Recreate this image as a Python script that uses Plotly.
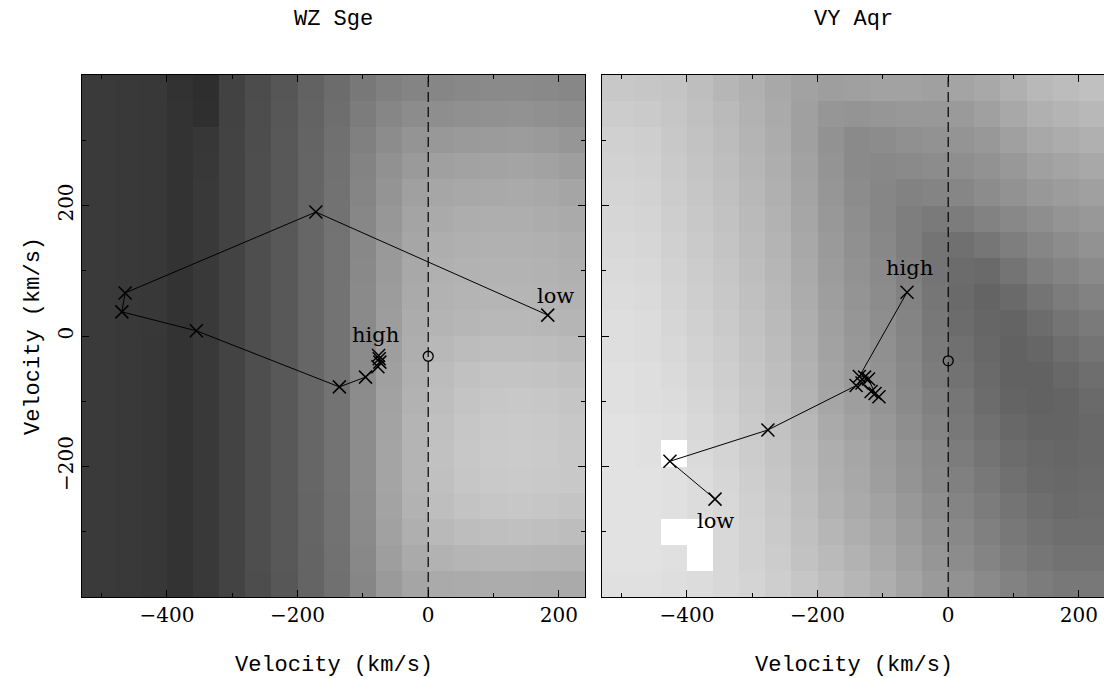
import plotly.graph_objects as go

# ---------------- data ----------------
# heat-map bin edges (km/s)
x_edges = [-530, -480, -440, -400, -360, -320, -280, -240, -200, -160, -120,
           -80, -40, 0, 40, 80, 120, 160, 200, 240]
y_edges = [-400, -360, -320, -280, -240, -200, -160, -120, -80, -40, 0,
           40, 80, 120, 160, 200, 240, 280, 320, 360, 400]

# axis ticks
x_major = [-400, -200, 0, 200]
x_minor = [-500, -300, -100, 100]
y_major = [-200, 0, 200]
y_minor = [-300, -100, 100, 300]

# grey levels (0 = black, 255 = white), rows listed from top (y=+380) to bottom (y=-380)
wz_rows_top_down = [
    [58, 57, 56, 50, 46, 66, 76, 86, 98, 108, 120, 128, 132, 134, 136, 138, 138, 137, 135],
    [58, 57, 56, 51, 47, 66, 77, 87, 99, 110, 124, 134, 140, 142, 144, 145, 146, 144, 142],
    [58, 57, 56, 51, 55, 67, 77, 88, 100, 112, 128, 140, 148, 152, 154, 155, 156, 154, 150],
    [58, 57, 56, 51, 56, 67, 78, 88, 101, 113, 131, 145, 154, 160, 162, 163, 164, 162, 158],
    [58, 57, 56, 51, 57, 67, 78, 88, 101, 114, 133, 148, 160, 166, 168, 169, 170, 168, 165],
    [58, 57, 56, 51, 57, 67, 78, 88, 102, 114, 135, 151, 164, 170, 173, 174, 174, 172, 170],
    [58, 57, 56, 51, 57, 67, 78, 88, 102, 115, 136, 153, 166, 174, 176, 177, 177, 176, 174],
    [58, 57, 56, 51, 57, 67, 78, 88, 102, 115, 137, 154, 168, 176, 178, 179, 179, 178, 176],
    [58, 57, 56, 51, 57, 67, 78, 88, 102, 115, 138, 156, 170, 178, 180, 181, 181, 180, 178],
    [58, 57, 56, 51, 57, 67, 78, 88, 102, 115, 138, 157, 172, 180, 182, 184, 184, 183, 181],
    [58, 57, 55, 51, 57, 67, 78, 88, 102, 115, 139, 158, 174, 184, 188, 190, 190, 189, 187],
    [58, 57, 55, 51, 57, 67, 78, 88, 102, 115, 139, 160, 176, 188, 193, 196, 196, 195, 193],
    [58, 57, 55, 51, 57, 67, 78, 88, 102, 115, 140, 162, 178, 190, 196, 199, 200, 199, 197],
    [58, 57, 55, 51, 57, 67, 78, 88, 102, 115, 140, 163, 180, 192, 198, 201, 202, 201, 199],
    [58, 57, 55, 51, 57, 67, 78, 88, 102, 115, 140, 164, 180, 193, 199, 202, 203, 202, 200],
    [58, 57, 55, 51, 57, 67, 78, 88, 102, 115, 140, 164, 180, 192, 198, 201, 202, 201, 200],
    [58, 57, 55, 51, 57, 67, 78, 88, 101, 114, 139, 163, 178, 190, 195, 198, 199, 198, 196],
    [58, 57, 55, 51, 57, 67, 78, 88, 101, 114, 138, 161, 175, 185, 189, 191, 192, 191, 189],
    [58, 57, 55, 51, 57, 67, 78, 88, 100, 113, 136, 158, 170, 178, 181, 182, 182, 181, 180],
    [58, 57, 55, 51, 57, 67, 77, 87, 100, 112, 134, 154, 165, 170, 171, 172, 172, 171, 170],
]

vy_rows_top_down = [
    [200, 198, 196, 190, 182, 176, 168, 162, 158, 160, 162, 162, 160, 164, 168, 176, 184, 188, 192],
    [204, 202, 198, 192, 186, 178, 170, 160, 150, 148, 150, 152, 152, 154, 160, 168, 176, 180, 184],
    [208, 206, 200, 194, 188, 180, 172, 160, 146, 138, 140, 144, 146, 148, 152, 160, 168, 172, 176],
    [210, 208, 202, 196, 190, 182, 174, 162, 148, 138, 136, 138, 140, 142, 146, 152, 160, 164, 168],
    [212, 210, 204, 198, 192, 184, 176, 164, 150, 140, 134, 130, 132, 134, 140, 146, 152, 156, 160],
    [214, 212, 206, 200, 194, 186, 178, 166, 152, 142, 134, 126, 122, 124, 130, 136, 142, 148, 152],
    [216, 214, 208, 202, 196, 188, 180, 168, 154, 144, 136, 126, 116, 112, 118, 126, 134, 140, 146],
    [218, 216, 210, 204, 198, 190, 182, 170, 156, 146, 138, 128, 116, 108, 106, 116, 126, 132, 138],
    [220, 218, 212, 206, 200, 192, 184, 172, 158, 148, 140, 130, 118, 106, 100, 106, 116, 124, 130],
    [222, 220, 214, 208, 202, 194, 186, 174, 160, 150, 142, 132, 120, 108, 102, 100, 108, 116, 122],
    [222, 220, 216, 210, 204, 196, 188, 176, 162, 152, 144, 134, 122, 112, 104, 98, 102, 110, 116],
    [224, 222, 218, 212, 206, 198, 190, 178, 164, 154, 146, 136, 124, 114, 106, 98, 98, 104, 110],
    [224, 222, 220, 214, 208, 200, 192, 180, 166, 158, 148, 138, 128, 118, 108, 100, 98, 100, 106],
    [226, 224, 222, 216, 210, 202, 194, 184, 170, 162, 152, 142, 132, 120, 112, 104, 100, 100, 104],
    [226, 224, 255, 218, 212, 204, 196, 186, 174, 166, 156, 146, 136, 124, 116, 108, 104, 102, 104],
    [226, 226, 224, 220, 214, 206, 198, 188, 176, 168, 158, 148, 138, 128, 120, 112, 106, 104, 106],
    [226, 226, 224, 220, 216, 208, 200, 190, 178, 170, 162, 152, 142, 132, 124, 116, 110, 106, 108],
    [226, 226, 255, 255, 216, 210, 202, 192, 182, 174, 166, 156, 146, 136, 128, 120, 114, 110, 110],
    [226, 226, 224, 255, 216, 210, 204, 194, 186, 178, 170, 160, 150, 140, 132, 124, 118, 114, 114],
    [224, 224, 222, 220, 216, 212, 206, 198, 190, 182, 174, 164, 154, 146, 138, 130, 124, 120, 120],
]

# trajectories (km/s)
wz_vx = [183, -172, -464, -469, -355, -136, -96, -77, -74, -75, -76]
wz_vy = [32, 190, 66, 37, 8, -78, -63, -47, -40, -35, -30]
vy_vx = [-63, -136, -128, -122, -112, -106, -118, -132, -141, -276, -426, -357]
vy_vy = [67, -62, -63, -66, -88, -93, -85, -72, -76, -144, -192, -250]

# systemic points (o)
wz_sys = (0, -31)
vy_sys = (0, -38)

titles = ["WZ Sge", "VY Aqr"]
axis_label = "Velocity (km/s)"

# ---------------- figure ----------------
W, H = 1104, 678
gray = [[0, "black"], [1, "white"]]

fig = go.Figure()
for z, xa, ya in [(wz_rows_top_down, "x", "y"), (vy_rows_top_down, "x2", "y2")]:
    fig.add_trace(go.Heatmap(
        x=x_edges, y=y_edges, z=z[::-1], colorscale=gray, zmin=0, zmax=255,
        showscale=False, hoverinfo="skip", xaxis=xa, yaxis=ya))

line_style = dict(color="black", width=1)
xmark = dict(symbol="x-thin", size=13, color="black", line=dict(width=1.5, color="black"))
omark = dict(symbol="circle-open", size=10, color="black", line=dict(width=1.3, color="black"))

fig.add_trace(go.Scatter(x=wz_vx, y=wz_vy, mode="lines+markers", line=line_style,
                         marker=xmark, xaxis="x", yaxis="y", showlegend=False))
fig.add_trace(go.Scatter(x=vy_vx, y=vy_vy, mode="lines+markers", line=line_style,
                         marker=xmark, xaxis="x2", yaxis="y2", showlegend=False))
fig.add_trace(go.Scatter(x=[wz_sys[0]], y=[wz_sys[1]], mode="markers", marker=omark,
                         xaxis="x", yaxis="y", showlegend=False))
fig.add_trace(go.Scatter(x=[vy_sys[0]], y=[vy_sys[1]], mode="markers", marker=omark,
                         xaxis="x2", yaxis="y2", showlegend=False))

tickfont = dict(family="DejaVu Serif", size=20, color="black")


def axis_style(major, minor, **kw):
    d = dict(showline=True, linecolor="black", linewidth=1, ticks="inside",
             ticklen=7, tickwidth=1, tickcolor="black", showgrid=False,
             zeroline=False, tickfont=tickfont, automargin=False,
             tickmode="array", tickvals=major,
             minor=dict(tickmode="array", tickvals=minor, ticklen=4, ticks="inside",
                        tickcolor="black", tickwidth=1, showgrid=False))
    d.update(kw)
    return d


ydom = [1 - 597 / H, 1 - 75 / H]
fig.update_layout(
    width=W, height=H, margin=dict(l=0, r=0, t=0, b=0, autoexpand=False),
    paper_bgcolor="white", plot_bgcolor="white", showlegend=False,
    xaxis=axis_style(x_major, x_minor, domain=[82 / W, 585 / W], range=[-530, 240],
                     anchor="y", mirror="ticks"),
    yaxis=axis_style(y_major, y_minor, domain=ydom, range=[-400, 400], anchor="x",
                     mirror="ticks", tickangle=-90),
    xaxis2=axis_style(x_major, x_minor, domain=[602 / W, 1.0], range=[-530, 238.5],
                      anchor="y2", mirror="ticks"),
    yaxis2=axis_style(y_major, y_minor, domain=ydom, range=[-400, 400], anchor="x2",
                      mirror=False, showticklabels=False),
    yaxis3=axis_style(y_major, y_minor, overlaying="y2", side="right", anchor="x2",
                      range=[-400, 400], showline=False, showticklabels=False),
)

# dashed zero-velocity lines
for xr, yr in [("x", "y domain"), ("x2", "y2 domain")]:
    fig.add_shape(type="line", x0=0, x1=0, y0=0, y1=1, xref=xr, yref=yr,
                  line=dict(color="black", width=1.2, dash="10px,5px"))

titlefont = dict(family="Liberation Mono", size=22, color="black")
labfont = dict(family="DejaVu Serif", size=21, color="black")
ann = []
for cx, t in [((82 + 585) / 2, titles[0]), ((602 + 1105) / 2, titles[1])]:
    ann.append(dict(text=t, x=cx / W, y=1 - 20 / H, xref="paper", yref="paper",
                    showarrow=False, font=titlefont, xanchor="center", yanchor="middle"))
    ann.append(dict(text=axis_label, x=cx / W, y=1 - 665 / H, xref="paper", yref="paper",
                    showarrow=False, font=titlefont, xanchor="center", yanchor="middle"))
ann.append(dict(text=axis_label, x=33 / W, y=1 - 336 / H, xref="paper", yref="paper",
                showarrow=False, font=titlefont, textangle=-90,
                xanchor="center", yanchor="middle"))
ann += [
    dict(text="high", x=-81, y=2, xref="x", yref="y", showarrow=False, font=labfont),
    dict(text="low", x=195, y=61, xref="x", yref="y", showarrow=False, font=labfont),
    dict(text="high", x=-60, y=104, xref="x2", yref="y2", showarrow=False, font=labfont),
    dict(text="low", x=-356, y=-283, xref="x2", yref="y2", showarrow=False, font=labfont),
]
fig.update_layout(annotations=ann)

fig.write_html("out.html")
